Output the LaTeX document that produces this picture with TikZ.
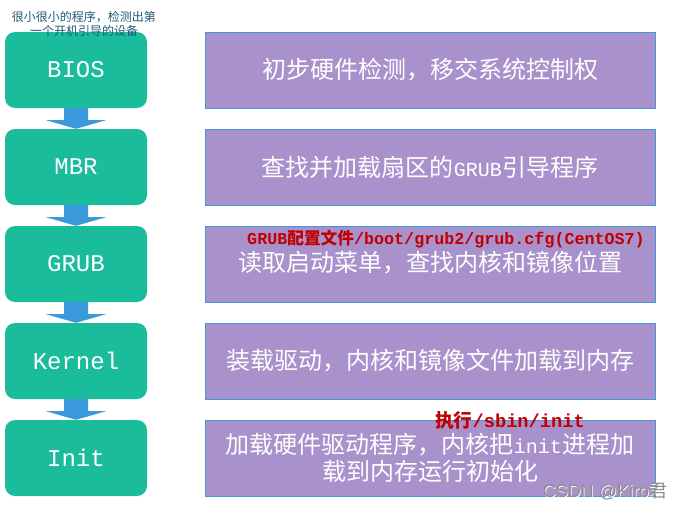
\documentclass[tikz,border=0pt]{standalone}
\usepackage{fontspec}
\usetikzlibrary{calc}
\setmainfont{Liberation Mono}
\newfontfamily\cjk{Noto Sans CJK SC}
\newfontfamily\mono{Liberation Mono}
\newfontfamily\wm{Liberation Sans}
\newcommand{\halfmono}{\mono\fontsize{20}{27}\selectfont}
\definecolor{stepgreen}{HTML}{1ABC9C}
\definecolor{descpurple}{HTML}{A991CC}
\definecolor{edgeblue}{HTML}{3C9AD8}
\definecolor{arrowblue}{HTML}{3A99DB}
\definecolor{notered}{HTML}{C00000}
\definecolor{noteblue}{HTML}{1F5A7A}
\definecolor{wmgrey}{HTML}{8C8C8C}
\tikzset{
  stepbox/.style={fill=stepgreen, rounded corners=10pt, minimum width=142pt, minimum height=76pt, inner sep=0pt, text=white, font=\mono\fontsize{24}{28}\selectfont},
  descbox/.style={fill=descpurple, draw=edgeblue, line width=0.8pt, minimum width=450pt, minimum height=76pt, inner sep=0pt, text=white, font=\cjk\fontsize{24}{27}\selectfont, align=center},
  desctext/.style={text=white, font=\cjk\fontsize{24}{27}\selectfont, inner sep=0pt, align=center},
  flowarrow/.style={fill=arrowblue, draw=none},
  rednote/.style={text=notered, font=\mono\bfseries\fontsize{16.7}{20}\selectfont, inner sep=0pt},
  topnote/.style={text=noteblue, font=\cjk\fontsize{12}{14}\selectfont, inner sep=0pt, align=center},
  wmark/.style={font=\wm\fontsize{18}{20}\selectfont, inner sep=0pt}
}
\begin{document}
\begin{tikzpicture}[x=1pt,y=-1pt]
\useasboundingbox (0,0) rectangle (683,512);
% green step boxes
\node[stepbox] (bios) at (76,70) {BIOS};
\node[stepbox] (mbr) at (76,167) {MBR};
\node[stepbox] (grub) at (76,264) {GRUB};
\node[stepbox] (kernel) at (76,361) {Kernel};
\node[stepbox] (init) at (76,458) {Init};
% arrows between boxes
\foreach \a/\b in {bios/mbr, mbr/grub, grub/kernel, kernel/init}{
  \fill[flowarrow] ($(\a.south)+(-12,0)$) -- ($(\a.south)+(12,0)$) -- ($(\a.south)+(12,12)$) -- ($(\a.south)+(30,12)$) -- (\b.north) -- ($(\a.south)+(-30,12)$) -- ($(\a.south)+(-12,12)$) -- cycle;
}
% purple description boxes
\node[descbox] (d1) at (430,70) {初步硬件检测，移交系统控制权};
\node[descbox] (d2) at (430,167) {查找并加载扇区的{\halfmono GRUB}引导程序};
\node[descbox] (d3) at (430,264) {};
\node[desctext] (d3t) at (430,263) {读取启动菜单，查找内核和镜像位置};
\node[descbox] (d4) at (430,361) {装载驱动，内核和镜像文件加载到内存};
\node[descbox] (d5) at (430,458) {};
\node[desctext] (d5t) at (430,458) {加载硬件驱动程序，内核把{\halfmono init}进程加\\载到内存运行初始化};
% red notes
\node[rednote] (n3) at (446,239) {GRUB{\cjk 配置文件}/boot/grub2/grub.cfg(CentOS7)};
\node[rednote, font=\mono\bfseries\fontsize{18.7}{22}\selectfont] (n5) at (510,420) {{\cjk 执行}/sbin/init};
% top note
\node[topnote] (tn) at (84,24) {很小很小的程序，检测出第\\一个开机引导的设备};
% watermark
\node[wmark, text=white] (wmh) at (605.8,492.8) {CSDN @Kiro{\cjk 君}};
\node[wmark, text=wmgrey] (wm) at (605,492) {CSDN @Kiro{\cjk 君}};
\end{tikzpicture}
\end{document}
